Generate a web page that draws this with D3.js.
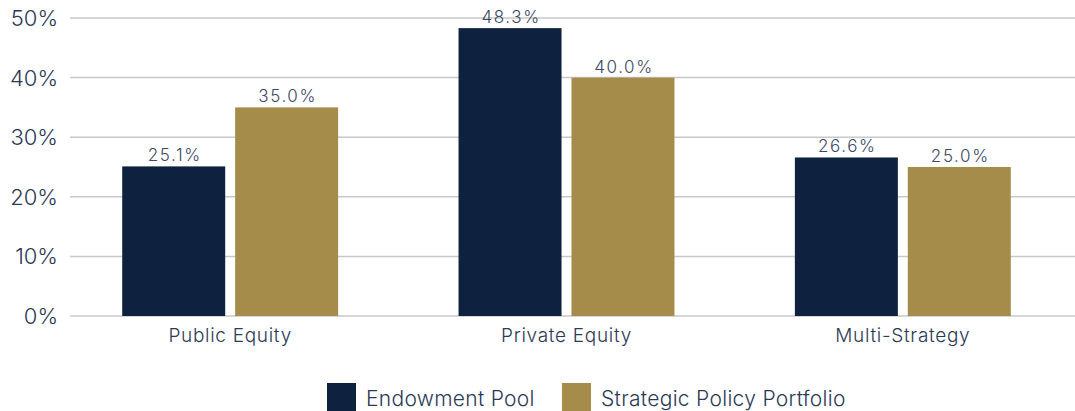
<!DOCTYPE html>
<html>
<head>
<meta charset="utf-8">
<title>Allocation</title>
<style>
  body { margin: 0; background: #fff; }
  svg { display: block; font-family: Inter, "Noto Sans", sans-serif; font-weight: 300; }
  .grid line { stroke: #c8c8c8; stroke-width: 1.5; }
  .tick-label { fill: #2b3a55; font-size: 22px; }
  .cat-label { fill: #2b3a55; font-size: 19px; letter-spacing: 0.7px; }
  .val-label { fill: #3a4862; font-size: 17px; letter-spacing: 1.6px; }
  .legend text { fill: #2b3a55; font-size: 21px; letter-spacing: 0.3px; }
</style>
</head>
<body>
<svg width="1075" height="411"></svg>
<script src="https://d3js.org/d3.v7.min.js"></script>
<script>
  // chart data
  const categories = ['Public Equity', 'Private Equity', 'Multi-Strategy'];
  const seriesNames = ['Endowment Pool', 'Strategic Policy Portfolio'];
  const endowment = [25.1, 48.3, 26.6];
  const policy = [35.0, 40.0, 25.0];
  const yTicks = [0, 10, 20, 30, 40, 50];
  const colors = ['#0e2240', '#a58c4a'];

  const svg = d3.select('svg');

  const y = d3.scaleLinear().domain([0, 50]).range([316, 18]);

  const x0 = d3.scaleBand()
      .domain(categories)
      .range([62, 1071])
      .paddingInner(0.358)
      .paddingOuter(0.179);

  const x1 = d3.scaleBand()
      .domain(seriesNames)
      .range([0, x0.bandwidth()])
      .paddingInner(0.088);

  const color = d3.scaleOrdinal().domain(seriesNames).range(colors);

  // gridlines + y labels
  const grid = svg.append('g').attr('class', 'grid');
  grid.selectAll('line').data(yTicks).join('line')
      .attr('x1', 70).attr('x2', 1075)
      .attr('y1', d => y(d)).attr('y2', d => y(d));

  svg.append('g').selectAll('text').data(yTicks).join('text')
      .attr('class', 'tick-label')
      .attr('x', 58)
      .attr('y', d => y(d))
      .attr('dy', '0.36em')
      .attr('text-anchor', 'end')
      .text(d => d + '%');

  // bars
  const rows = categories.map((c, i) => ({
      cat: c,
      vals: [
          { name: seriesNames[0], v: endowment[i] },
          { name: seriesNames[1], v: policy[i] }
      ]
  }));

  const groups = svg.append('g').selectAll('g').data(rows).join('g')
      .attr('transform', d => `translate(${x0(d.cat)},0)`);

  groups.selectAll('rect').data(d => d.vals).join('rect')
      .attr('x', d => x1(d.name))
      .attr('width', x1.bandwidth())
      .attr('y', d => y(d.v))
      .attr('height', d => y(0) - y(d.v))
      .attr('fill', d => color(d.name));

  groups.selectAll('text').data(d => d.vals).join('text')
      .attr('class', 'val-label')
      .attr('x', d => x1(d.name) + x1.bandwidth() / 2 + 1)
      .attr('y', d => y(d.v) - 5)
      .attr('text-anchor', 'middle')
      .text(d => d.v.toFixed(1) + '%');

  // category labels
  svg.append('g').selectAll('text').data(categories).join('text')
      .attr('class', 'cat-label')
      .attr('x', d => x0(d) + x0.bandwidth() / 2)
      .attr('y', 342)
      .attr('text-anchor', 'middle')
      .text(d => d);

  // legend
  const legendX = [327, 562];
  const legend = svg.append('g').attr('class', 'legend')
      .selectAll('g').data(seriesNames).join('g')
      .attr('transform', (d, i) => `translate(${legendX[i]},383)`);

  legend.append('rect')
      .attr('width', 29).attr('height', 28)
      .attr('fill', d => color(d));

  legend.append('text')
      .attr('x', 39)
      .attr('y', 23)
      .text(d => d);
</script>
</body>
</html>
